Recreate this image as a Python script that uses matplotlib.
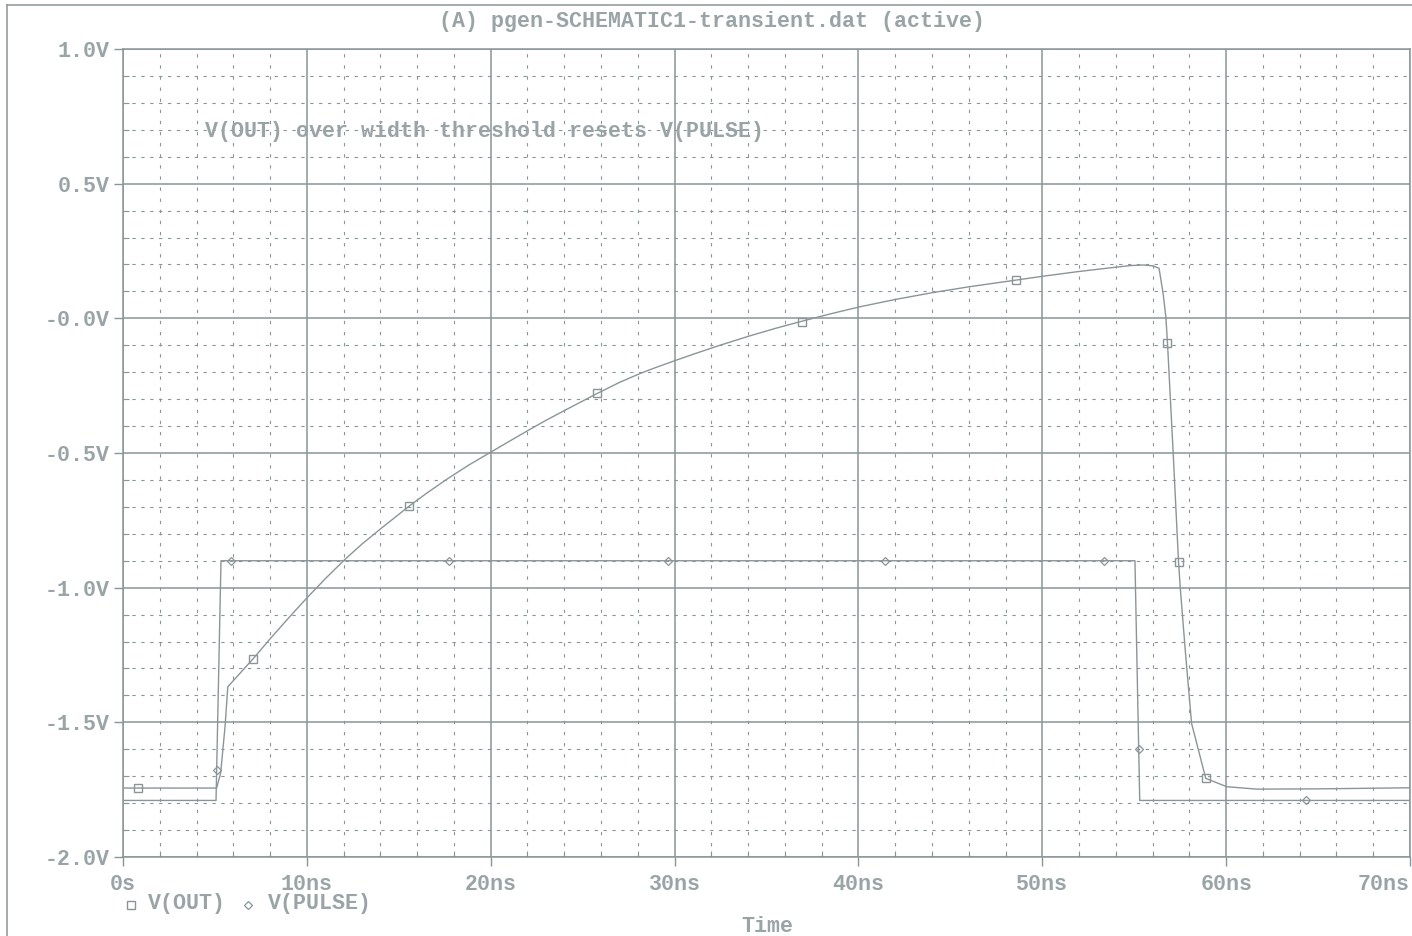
import matplotlib
matplotlib.use("Agg")
import matplotlib.pyplot as plt
from matplotlib.lines import Line2D
from matplotlib.ticker import MultipleLocator, FixedLocator

# ---- transient data (time in ns, voltage in V) ----
out_t = [0.0, 5.09, 5.31, 5.55, 5.70, 7.09, 8.0, 9.0, 10.03, 11.0, 12.07, 13.0,
         14.0, 15.57, 16.5, 17.6, 18.8, 20.05, 21.0, 22.14, 23.0, 24.13, 25.76,
         27.0, 28.12, 29.0, 30.02, 31.2, 32.47, 34.0, 35.5, 36.91, 38.5, 40.09,
         42.0, 44.0, 46.0, 48.57, 50.0, 52.0, 53.5, 54.8, 55.5, 56.0, 56.35,
         56.57, 56.72, 56.81, 57.12, 57.41, 57.51, 57.79, 58.12, 58.89, 60.03,
         61.66, 65.0, 70.0]
out_v = [-1.744, -1.744, -1.689, -1.516, -1.368, -1.263, -1.190, -1.113, -1.036,
         -0.967, -0.895, -0.838, -0.782, -0.697, -0.650, -0.598, -0.545, -0.495,
         -0.457, -0.412, -0.379, -0.338, -0.280, -0.238, -0.205, -0.182, -0.157,
         -0.129, -0.100, -0.067, -0.037, -0.011, 0.017, 0.043, 0.070, 0.095,
         0.117, 0.142, 0.156, 0.174, 0.186, 0.196, 0.198, 0.195, 0.186, 0.093,
         0.006, -0.092, -0.501, -0.904, -1.005, -1.244, -1.504, -1.708, -1.739,
         -1.748, -1.747, -1.743]
out_mark_t = [0.82, 7.09, 15.57, 25.76, 36.91, 48.57, 56.81, 57.41, 58.89]
out_mark_v = [-1.744, -1.263, -0.697, -0.278, -0.012, 0.142, -0.092, -0.904, -1.708]

pulse_t = [0.0, 5.06, 5.33, 55.04, 55.30, 70.0]
pulse_v = [-1.79, -1.79, -0.90, -0.90, -1.79, -1.79]
pulse_mark_t = [5.10, 5.87, 17.73, 29.64, 41.44, 53.36, 55.26, 64.34]
pulse_mark_v = [-1.677, -0.90, -0.90, -0.90, -0.90, -0.90, -1.599, -1.79]

x_ticks = [0, 10, 20, 30, 40, 50, 60, 70]
x_labels = ["0s", "10ns", "20ns", "30ns", "40ns", "50ns", "60ns", "70ns"]
y_ticks = [1.0, 0.5, 0.0, -0.5, -1.0, -1.5, -2.0]
y_labels = ["1.0V", "0.5V", "-0.0V", "-0.5V", "-1.0V", "-1.5V", "-2.0V"]

title = "(A) pgen-SCHEMATIC1-transient.dat (active)"
note = "V(OUT) over width threshold resets V(PULSE)"

LINE = "#8b9597"
TEXT = "#9aa4a6"
FONT = ["Liberation Mono", "DejaVu Sans Mono"]
FS = 15.6

W, H = 1412, 936
fig = plt.figure(figsize=(W / 100, H / 100), dpi=100)
fig.patch.set_facecolor("white")

x0, x1, y_top, y_bot = 123, 1410, 49, 857
ax = fig.add_axes([x0 / W, 1 - y_bot / H, (x1 - x0) / W, (y_bot - y_top) / H])
ax.set_xlim(0, 70)
ax.set_ylim(-2.0, 1.0)

# minor grid: short dashes
for t in range(2, 70, 2):
    if t % 10:
        ax.axvline(t, color=LINE, lw=0.8, ls=(0, (3, 7)), zorder=1)
for k in range(-19, 10):
    v = k / 10
    if k % 5:
        ax.axhline(v, color=LINE, lw=0.8, ls=(0, (3, 5)), zorder=1)
# major grid: solid
for t in x_ticks:
    ax.axvline(t, color=LINE, lw=1.1, zorder=1.5)
for v in y_ticks:
    ax.axhline(v, color=LINE, lw=1.1, zorder=1.5)

for s in ax.spines.values():
    s.set_color(LINE)
    s.set_linewidth(1.1)

# traces
ax.plot(out_t, out_v, color=LINE, lw=1.0, zorder=3)
ax.plot(pulse_t, pulse_v, color=LINE, lw=1.0, zorder=3)
ax.plot(out_mark_t, out_mark_v, ls="none", marker="s", ms=6.2, mfc="none",
        mec=LINE, mew=1.0, zorder=4)
ax.plot(pulse_mark_t, pulse_mark_v, ls="none", marker="D", ms=4.2, mfc="none",
        mec=LINE, mew=0.9, zorder=4)

ax.text(4.46, 0.692, note, family=FONT, fontsize=FS, fontweight="bold",
        color=TEXT, ha="left", va="center", zorder=5)

# ticks
ax.xaxis.set_major_locator(FixedLocator(x_ticks))
ax.yaxis.set_major_locator(FixedLocator(y_ticks))
ax.xaxis.set_minor_locator(MultipleLocator(2))
ax.yaxis.set_minor_locator(MultipleLocator(0.1))
ax.set_xticklabels(x_labels)
ax.set_yticklabels(y_labels)
ax.tick_params(which="major", direction="out", length=6.5, width=1.0,
               color=LINE, labelcolor=TEXT, labelsize=FS)
ax.tick_params(which="minor", direction="in", length=4, width=0.8, color=LINE)
ax.tick_params(axis="x", which="major", pad=6)
ax.tick_params(axis="y", which="major", pad=3)
ax.tick_params(top=False, right=False, which="both")
for lab in ax.get_xticklabels() + ax.get_yticklabels():
    lab.set_family(FONT)
    lab.set_fontweight("bold")
xl = ax.get_xticklabels()
xl[-1].set_horizontalalignment("right")
xl[-1].set_x(70)

# figure-level texts
fig.text(712 / W, 1 - 21 / H, title, family=FONT, fontsize=FS, fontweight="bold",
         color=TEXT, ha="center", va="center")
fig.text(767 / W, 1 - 926 / H, "Time", family=FONT, fontsize=FS,
         fontweight="bold", color=TEXT, ha="center", va="center")

# legend row
fig.add_artist(Line2D([131 / W], [1 - 905 / H], transform=fig.transFigure,
                      ls="none", marker="s", ms=5.5, mfc="none", mec=LINE, mew=1.0))
fig.text(148 / W, 1 - 904 / H, "V(OUT)", family=FONT, fontsize=FS,
         fontweight="bold", color=TEXT, ha="left", va="center")
fig.add_artist(Line2D([248 / W], [1 - 905 / H], transform=fig.transFigure,
                      ls="none", marker="D", ms=4.0, mfc="none", mec=LINE, mew=0.9))
fig.text(268 / W, 1 - 904 / H, "V(PULSE)", family=FONT, fontsize=FS,
         fontweight="bold", color=TEXT, ha="left", va="center")

# outer window frame
fig.add_artist(Line2D([6.5 / W, 6.5 / W], [0, 1 - 4.5 / H], transform=fig.transFigure,
                      color=LINE, lw=1.1))
fig.add_artist(Line2D([6.5 / W, 1], [1 - 4.5 / H, 1 - 4.5 / H], transform=fig.transFigure,
                      color=LINE, lw=1.1))

fig.savefig("out.png", dpi=100, facecolor="white")
